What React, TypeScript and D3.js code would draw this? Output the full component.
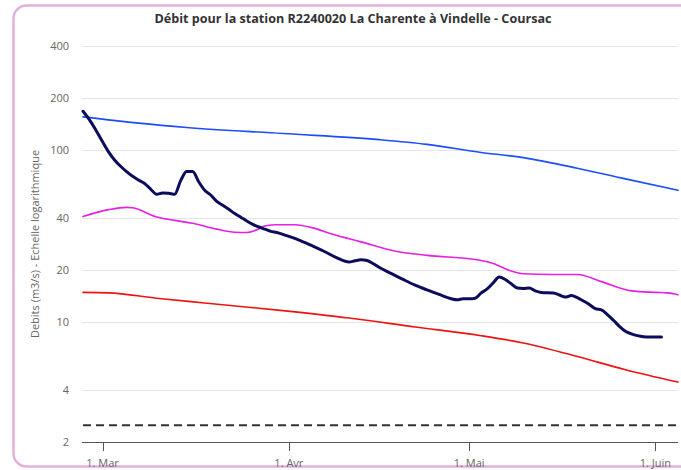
import React from "react";
import * as d3 from "d3";

// ---- data ----
const TITLE = "Débit pour la station R2240020 La Charente à Vindelle - Coursac";
const Y_TITLE = "Debits (m3/s) - Echelle logarithmique";
const X_DOMAIN = ["2023-02-25T18:00", "2023-06-04T18:00"];
const Y_TICKS = [2, 4, 10, 20, 40, 100, 200, 400];
const MONTH_LABELS = ["1. Mar", "1. Avr", "1. Mai", "1. Juin"];

const OBS_DATES = [
  "2023-02-25T18:00", "2023-02-27", "2023-02-28", "2023-03-01", "2023-03-02", "2023-03-03",
  "2023-03-04", "2023-03-05", "2023-03-06", "2023-03-07", "2023-03-08", "2023-03-09",
  "2023-03-10", "2023-03-11", "2023-03-12", "2023-03-13", "2023-03-14", "2023-03-15",
  "2023-03-16", "2023-03-17", "2023-03-18", "2023-03-19", "2023-03-20", "2023-03-21",
  "2023-03-22", "2023-03-23", "2023-03-24", "2023-03-25", "2023-03-26", "2023-03-27",
  "2023-03-28", "2023-03-29", "2023-03-30", "2023-03-31", "2023-04-01", "2023-04-03",
  "2023-04-05", "2023-04-07", "2023-04-09", "2023-04-11", "2023-04-12", "2023-04-13",
  "2023-04-14", "2023-04-15", "2023-04-16", "2023-04-18", "2023-04-20", "2023-04-22",
  "2023-04-24", "2023-04-26", "2023-04-28", "2023-04-29", "2023-04-30", "2023-05-01",
  "2023-05-02", "2023-05-03", "2023-05-04", "2023-05-05", "2023-05-06", "2023-05-07",
  "2023-05-08", "2023-05-09", "2023-05-10", "2023-05-11", "2023-05-12", "2023-05-13",
  "2023-05-15", "2023-05-16", "2023-05-17", "2023-05-18", "2023-05-19", "2023-05-20",
  "2023-05-21", "2023-05-22", "2023-05-23", "2023-05-24", "2023-05-25", "2023-05-26",
  "2023-05-27", "2023-05-28", "2023-05-29", "2023-05-30", "2023-05-31", "2023-06-01",
  "2023-06-02",
];
const OBS_VALUES = [
  167, 146, 128, 111, 97, 87,
  80, 74.5, 70, 66.5, 63.5, 59,
  55, 56, 55.8, 55, 66, 74.5,
  74.5, 65, 58, 54.5, 50, 47.5,
  45, 42.5, 40.5, 38.5, 36.8, 35.5,
  34.5, 33.5, 33, 32.2, 31.3, 29.5,
  27.5, 25.5, 23.5, 22.2, 22.6, 22.9,
  22.7, 21.8, 20.7, 19.1, 17.6, 16.3,
  15.3, 14.4, 13.6, 13.4, 13.6, 13.6,
  13.7, 14.7, 15.5, 16.8, 18.2, 17.6,
  16.6, 15.7, 15.6, 15.7, 15.1, 14.8,
  14.7, 14.3, 13.9, 14.2, 13.8, 13.2,
  12.6, 11.9, 11.7, 11.0, 10.2, 9.4,
  8.8, 8.5, 8.3, 8.18, 8.14, 8.14,
  8.14,
];

const BLUE_DATES = ["2023-02-25T18:00", "2023-03-07", "2023-03-15", "2023-03-31", "2023-04-16", "2023-04-24", "2023-05-03", "2023-05-10", "2023-05-19", "2023-05-27", "2023-06-04T18:00"];
const BLUE_VALUES = [155, 142.5, 134.5, 124, 114.3, 107.3, 96.3, 89.8, 78, 67.6, 58];

const MAGENTA_DATES = [
  "2023-02-25T18:00", "2023-03-02", "2023-03-05", "2023-03-06", "2023-03-10", "2023-03-13",
  "2023-03-16", "2023-03-20", "2023-03-23", "2023-03-25", "2023-03-27", "2023-03-28",
  "2023-03-30", "2023-04-02", "2023-04-05", "2023-04-08", "2023-04-13", "2023-04-19",
  "2023-04-24", "2023-05-03", "2023-05-05", "2023-05-08", "2023-05-10", "2023-05-15",
  "2023-05-19", "2023-05-23", "2023-05-28", "2023-06-01", "2023-06-03", "2023-06-04T18:00",
];
const MAGENTA_VALUES = [
  40.9, 44.8, 46.2, 45.9, 40.6, 38.8,
  37.3, 34.5, 33.1, 33.0, 34.6, 36.0,
  36.6, 36.6, 35.1, 32.4, 29.1, 25.6,
  24.3, 22.7, 21.8, 19.7, 19.0, 18.8,
  18.8, 17.1, 15.1, 14.8, 14.7, 14.35,
];

const RED_DATES = ["2023-02-25T18:00", "2023-03-02", "2023-03-10", "2023-03-18", "2023-03-31", "2023-04-11", "2023-04-22", "2023-05-03", "2023-05-10", "2023-05-19", "2023-05-27", "2023-06-04T18:00"];
const RED_VALUES = [14.8, 14.7, 13.7, 12.85, 11.6, 10.5, 9.32, 8.29, 7.52, 6.28, 5.26, 4.46];

const THRESHOLD = 2.5;

// ---- helpers ----
const parse = (s: string) => new Date(s.length === 10 ? s + "T00:00" : s);
const zip = (ds: string[], vs: number[]) => ds.map((d, i) => ({ date: parse(d), value: vs[i] }));

const W = 681;
const H = 470;
const X0 = 83;
const X1 = 678;
const Y_TOP = 46;
const Y_BOT = 442;
const FONT = "'Open Sans', 'Noto Sans', sans-serif";

export default function App() {
  const x = d3.scaleTime().domain(X_DOMAIN.map(parse)).range([X0, X1]);
  const y = d3.scaleLog().domain([2, 400]).range([Y_BOT, Y_TOP]);
  const line = d3
    .line<{ date: Date; value: number }>()
    .x((d) => x(d.date))
    .y((d) => y(d.value))
    .curve(d3.curveMonotoneX);

  const months = x.ticks(d3.timeMonth.every(1) as d3.TimeInterval);
  const series = [
    { data: zip(BLUE_DATES, BLUE_VALUES), color: "#1c4dff", w: 1.6 },
    { data: zip(MAGENTA_DATES, MAGENTA_VALUES), color: "#e520e5", w: 1.6 },
    { data: zip(RED_DATES, RED_VALUES), color: "#f01212", w: 1.6 },
    { data: zip(OBS_DATES, OBS_VALUES), color: "#0c0c5c", w: 3 },
  ];

  return (
    <svg
      width={W}
      height={H}
      style={{ position: "absolute", left: 0, top: 0, background: "#fff" }}
      fontFamily={FONT}
    >
      <rect x={0} y={0} width={W} height={H} fill="#fff" />
      <rect x={13.5} y={5.5} width={720} height={461} rx={13} fill="#fff" stroke="#e3afdd" strokeWidth={2.5} />
      <text x={353} y={23} textAnchor="middle" fontSize={12.6} fontWeight="bold" fill="#333">
        {TITLE}
      </text>
      {Y_TICKS.map((t) => (
        <g key={t}>
          {t !== 2 && (
            <line x1={X0 - 1} x2={X1} y1={Math.round(y(t)) + 0.5} y2={Math.round(y(t)) + 0.5} stroke="#e6e6e6" />
          )}
          <text x={69} y={y(t) + 4} textAnchor="end" fontSize={11} fill="#666">
            {t}
          </text>
        </g>
      ))}
      <text
        transform={`translate(39, ${(Y_TOP + Y_BOT) / 2}) rotate(-90)`}
        textAnchor="middle"
        fontSize={11}
        fill="#666"
      >
        {Y_TITLE}
      </text>
      <line x1={X0 - 1} x2={X1} y1={Y_BOT + 0.5} y2={Y_BOT + 0.5} stroke="#555" strokeWidth={1} />
      {months.map((m, i) => (
        <g key={i}>
          <line x1={Math.round(x(m)) + 0.5} x2={Math.round(x(m)) + 0.5} y1={Y_BOT} y2={Y_BOT + 9} stroke="#555" />
          <text x={x(m)} y={467} textAnchor="middle" fontSize={11} fill="#666">
            {MONTH_LABELS[i]}
          </text>
        </g>
      ))}
      <line
        x1={X0}
        x2={X1}
        y1={y(THRESHOLD)}
        y2={y(THRESHOLD)}
        stroke="#333"
        strokeWidth={2}
        strokeDasharray="8,5"
      />
      {series.map((s, i) => (
        <path key={i} d={line(s.data) || ""} fill="none" stroke={s.color} strokeWidth={s.w} strokeLinejoin="round" strokeLinecap="round" />
      ))}
    </svg>
  );
}
